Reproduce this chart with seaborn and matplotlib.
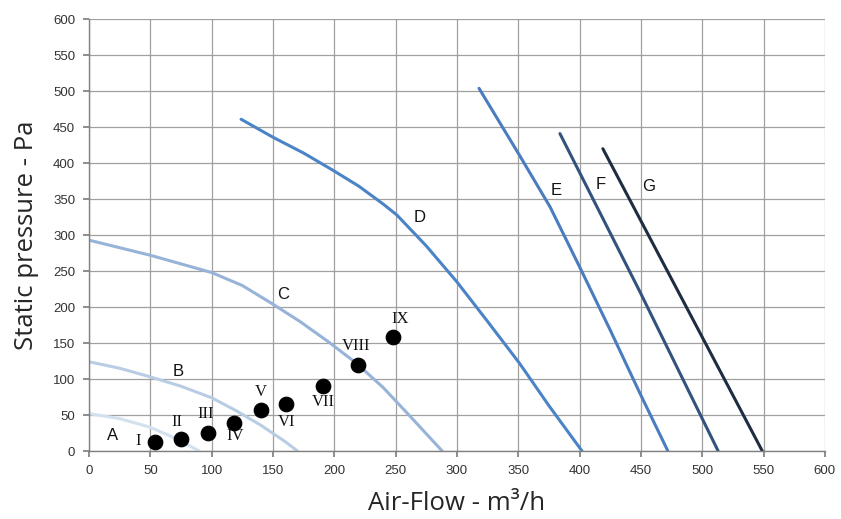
#!/usr/bin/env python3
"""Fan curves (static pressure vs air flow) with operating points I-IX."""

import pandas as pd
import matplotlib.pyplot as plt
import seaborn as sns

# Fan curves: air flow (m3/h) and static pressure (Pa)
A_x = [0, 25, 50, 70, 90]
A_y = [52, 45, 33, 18, 0]
B_x = [0, 25, 50, 75, 100, 120, 140, 160, 170]
B_y = [124, 115, 103, 90, 74, 56, 36, 13, 0]
C_x = [0, 50, 100, 125, 150, 172, 195, 218, 240, 262, 288]
C_y = [293, 272, 248, 230, 204, 180, 152, 122, 88, 48, 0]
D_x = [124, 150, 175, 199, 220, 240, 251, 275, 300, 325, 351, 375, 402]
D_y = [461, 436, 414, 390, 368, 343, 328, 285, 235, 180, 122, 63, 0]
E_x = [318, 351, 376, 400, 425, 449, 472]
E_y = [504, 411, 339, 256, 168, 81, 0]
F_x = [384, 449, 513]
F_y = [441, 222, 0]
G_x = [419, 484, 549]
G_y = [420, 210, 0]

curve_names = ["A", "B", "C", "D", "E", "F", "G"]
curve_colors = ["#d3e0ee", "#b8cde4", "#97b4d8", "#4a84c6", "#4a7cc0", "#34527e", "#1f2d42"]
curve_label_pos = [(19, 21), (73, 111), (158, 217), (270, 324), (381, 362), (417, 371), (456, 367)]

# Operating points
pt_names = ["I", "II", "III", "IV", "V", "VI", "VII", "VIII", "IX"]
pt_x = [54, 75, 97, 118, 140, 161, 191, 219, 248]
pt_y = [12, 17, 25, 39, 57, 65, 90, 119, 158]
pt_label_pos = [(40, 14), (72, 40), (95, 51), (119, 21), (140, 82), (161, 40), (191, 68), (218, 146), (254, 183)]

x_ticks = list(range(0, 601, 50))
y_ticks = list(range(0, 601, 50))

sns.set_theme(style="whitegrid")
plt.rcParams["font.family"] = ["Liberation Sans", "DejaVu Sans"]

fig = plt.figure(figsize=(8.41, 5.19), dpi=100)
ax = fig.add_axes([0.1058, 0.131, 0.875, 0.832])

curves = [(A_x, A_y), (B_x, B_y), (C_x, C_y), (D_x, D_y), (E_x, E_y), (F_x, F_y), (G_x, G_y)]
for name, (xs, ys), col, (lx, ly) in zip(curve_names, curves, curve_colors, curve_label_pos):
    df = pd.DataFrame({"flow": xs, "pressure": ys})
    sns.lineplot(data=df, x="flow", y="pressure", sort=False, estimator=None,
                 color=col, linewidth=2.2, ax=ax)
    ax.text(lx, ly, name, fontsize=12, color="#111111", ha="center", va="center")

pts = pd.DataFrame({"flow": pt_x, "pressure": pt_y})
sns.scatterplot(data=pts, x="flow", y="pressure", color="black", s=110,
                edgecolor="black", zorder=5, ax=ax)
for name, (lx, ly) in zip(pt_names, pt_label_pos):
    ax.text(lx, ly, name, fontsize=12, family="Liberation Serif",
            color="#111111", ha="center", va="center")

ax.set_xlim(0, 600)
ax.set_ylim(0, 600)
ax.set_xticks(x_ticks)
ax.set_yticks(y_ticks)
ax.grid(True, color="#a0a0a0", linewidth=0.9)
for side in ["top", "right"]:
    ax.spines[side].set_visible(False)
for side in ["left", "bottom"]:
    ax.spines[side].set_color("#808080")
    ax.spines[side].set_linewidth(1.0)
ax.tick_params(axis="both", labelsize=9.5, labelcolor="#333333", length=4,
               color="#808080", left=True, bottom=True, pad=6)

ax.set_xlabel("Air-Flow - m³/h", fontsize=18.5, family="Open Sans", labelpad=10)
ax.set_ylabel("Static pressure - Pa", fontsize=18.5, family="Open Sans", labelpad=10)

plt.savefig("out.png", dpi=100)
